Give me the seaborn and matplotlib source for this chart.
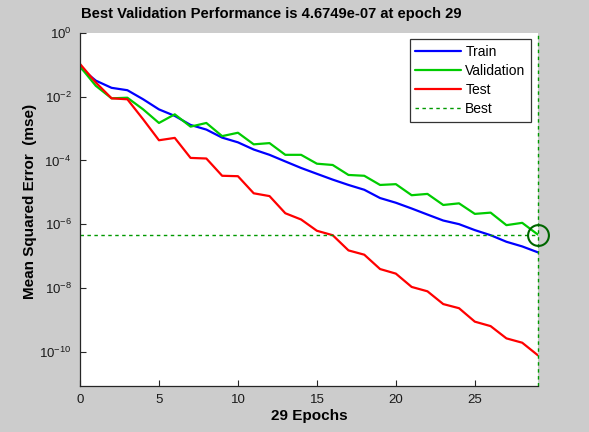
import numpy as np
import pandas as pd
import matplotlib
matplotlib.use("Agg")
import matplotlib.pyplot as plt
import seaborn as sns
from matplotlib.lines import Line2D

# values (mse per epoch)
epochs = list(range(30))
train_mse = [8.3e-2, 3.2e-2, 1.9e-2, 1.6e-2, 8.3e-3, 4.0e-3, 2.5e-3, 1.3e-3, 9.3e-4, 5.2e-4,
             3.7e-4, 2.2e-4, 1.5e-4, 9.3e-5, 5.8e-5, 3.8e-5, 2.5e-5, 1.7e-5, 1.2e-5, 6.6e-6,
             4.7e-6, 3.1e-6, 2.0e-6, 1.3e-6, 1.0e-6, 6.5e-7, 4.5e-7, 2.8e-7, 2.0e-7, 1.3e-7]
val_mse = [8.9e-2, 2.2e-2, 8.9e-3, 9.3e-3, 4.0e-3, 1.5e-3, 2.8e-3, 1.15e-3, 1.5e-3, 5.8e-4,
           7.4e-4, 3.2e-4, 3.5e-4, 1.5e-4, 1.5e-4, 7.9e-5, 7.2e-5, 3.5e-5, 3.3e-5, 1.7e-5,
           1.8e-5, 8.1e-6, 8.9e-6, 4.0e-6, 4.5e-6, 2.1e-6, 2.3e-6, 9.3e-7, 1.1e-6, 4.6749e-7]
test_mse = [1.07e-1, 2.8e-2, 8.9e-3, 8.3e-3, 1.95e-3, 4.3e-4, 5.1e-4, 1.2e-4, 1.15e-4, 3.3e-5,
            3.2e-5, 9.3e-6, 7.6e-6, 2.2e-6, 1.4e-6, 6.2e-7, 4.5e-7, 1.5e-7, 1.1e-7, 3.9e-8,
            2.8e-8, 1.07e-8, 7.8e-9, 3.1e-9, 2.3e-9, 8.7e-10, 6.3e-10, 2.6e-10, 1.9e-10, 7.6e-11]
best_epoch = 29
best_val = 4.6749e-07
series_names = ["Train", "Validation", "Test"]
series_colors = ["#0000ff", "#00cc00", "#ff0000"]

df = pd.DataFrame({
    "epoch": epochs * 3,
    "mse": train_mse + val_mse + test_mse,
    "set": [n for n in series_names for _ in epochs],
})

sns.set_style("ticks")
plt.rcParams["font.family"] = ["Liberation Sans", "DejaVu Sans"]
plt.rcParams["mathtext.fontset"] = "custom"
plt.rcParams["mathtext.rm"] = "Liberation Sans"
plt.rcParams["text.color"] = "black"
plt.rcParams["axes.labelcolor"] = "black"

bg = "#cccccc"
fig = plt.figure(figsize=(5.89, 4.32), dpi=100, facecolor=bg)
ax = fig.add_axes([80 / 589, 1 - 386 / 432, 458 / 589, 353 / 432])
ax.set_facecolor("white")

sns.lineplot(data=df, x="epoch", y="mse", hue="set", palette=series_colors,
             hue_order=series_names, linewidth=1.6, ax=ax, legend=False)

best_color = "#009900"
ax.axhline(best_val, color=best_color, linestyle=(0, (2.5, 2.5)), linewidth=1.0)
ax.axvline(best_epoch, color=best_color, linestyle=(0, (2.5, 2.5)), linewidth=1.0,
           clip_on=False)
ax.plot([best_epoch], [best_val], marker="o", markersize=15, markerfacecolor="none",
        markeredgecolor="#006600", markeredgewidth=1.5, clip_on=False)

ax.set_yscale("log")
ax.set_xlim(0, 29)
ax.set_ylim(10 ** -11.08, 1)
ax.set_xticks([0, 5, 10, 15, 20, 25])
ax.set_yticks([10.0 ** e for e in [0, -2, -4, -6, -8, -10]])
ax.yaxis.set_minor_locator(matplotlib.ticker.NullLocator())
ax.tick_params(direction="in", length=4, width=0.8, color="#262626",
               labelcolor="#1a1a1a", labelsize=9.5, pad=6)
for side in ["top", "right"]:
    ax.spines[side].set_visible(False)
for side in ["left", "bottom"]:
    ax.spines[side].set_color("#262626")
    ax.spines[side].set_linewidth(0.9)

fig.text(271 / 589, 1 - 14 / 432, "Best Validation Performance is 4.6749e-07 at epoch 29",
         fontsize=10.6, fontweight="bold", ha="center", va="center")
ax.set_xlabel("29 Epochs", fontsize=11, fontweight="bold", labelpad=2)
ax.set_ylabel("Mean Squared Error  (mse)", fontsize=11, fontweight="bold")
ax.yaxis.set_label_coords(-0.094, 0.524)

handles = [Line2D([], [], color=c, linewidth=1.6) for c in series_colors]
handles.append(Line2D([], [], color=best_color, linestyle=(0, (2.5, 2.5)), linewidth=1.0))
leg = ax.legend(handles, series_names + ["Best"], loc="upper right",
                bbox_to_anchor=(0.985, 0.983), fontsize=10, frameon=True, fancybox=False,
                edgecolor="black", handlelength=3.3, handletextpad=0.3,
                labelspacing=0.37, borderpad=0.4, borderaxespad=0)
leg.get_frame().set_linewidth(0.9)

fig.savefig("out.png", dpi=100, facecolor=bg)
